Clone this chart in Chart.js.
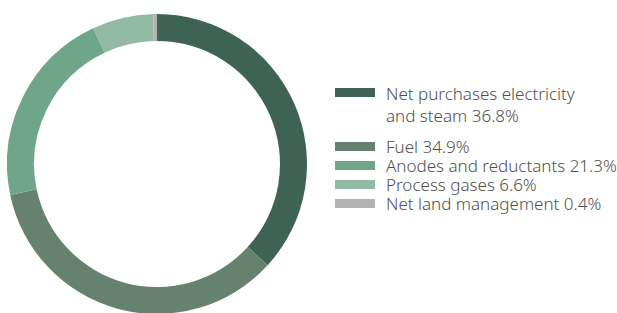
<!DOCTYPE html>
<html>
<head>
<meta charset="utf-8">
<script src="https://cdn.jsdelivr.net/npm/chart.js@4/dist/chart.umd.min.js"></script>
<style>
  html, body { margin: 0; padding: 0; background: #fff; }
  body { width: 617px; height: 313px; position: relative; overflow: hidden; }
  #wrap { position: absolute; left: 7px; top: 14px; width: 300px; height: 300px; }
  #legend {
    position: absolute; left: 335px; top: 83px;
    font-family: "Noto Sans", sans-serif; font-size: 17px; font-weight: 300; color: #505050;
  }
  .row { display: flex; align-items: flex-start; line-height: 19px; margin-bottom: 0; }
  .row.multi { line-height: 22px; margin-bottom: 10px; }
  .sw { width: 40px; height: 9px; margin-right: 11px; flex: none; margin-top: 5px; }
  .row.multi .sw { margin-top: 5px; }
  .txt { white-space: pre-line; }
</style>
</head>
<body>
<div id="wrap"><canvas id="chart" width="300" height="300"></canvas></div>
<div id="legend"></div>
<script>
// categories and shares (%) in clockwise order from 12 o'clock
const categories = [
  'Net purchases electricity\nand steam',
  'Fuel',
  'Anodes and reductants',
  'Process gases',
  'Net land management'
];
const shares = [36.8, 34.9, 21.3, 6.6, 0.4];
const colors = ['#3e6253', '#67816f', '#6fa588', '#91b9a3', '#b3b3b3'];

const ctx = document.getElementById('chart').getContext('2d');
new Chart(ctx, {
  type: 'doughnut',
  data: {
    labels: categories,
    datasets: [{
      data: shares,
      backgroundColor: colors,
      borderWidth: 0
    }]
  },
  options: {
    responsive: false,
    animation: false,
    cutout: '82%',
    layout: { padding: 0 },
    plugins: {
      legend: { display: false },
      tooltip: { enabled: false }
    }
  }
});

// legend built from the same arrays
const legend = document.getElementById('legend');
categories.forEach((name, i) => {
  const row = document.createElement('div');
  row.className = 'row' + (name.includes('\n') ? ' multi' : '');
  const sw = document.createElement('div');
  sw.className = 'sw';
  sw.style.background = colors[i];
  const txt = document.createElement('div');
  txt.className = 'txt';
  txt.textContent = `${name} ${shares[i].toFixed(1)}%`;
  row.appendChild(sw);
  row.appendChild(txt);
  legend.appendChild(row);
});
</script>
</body>
</html>
